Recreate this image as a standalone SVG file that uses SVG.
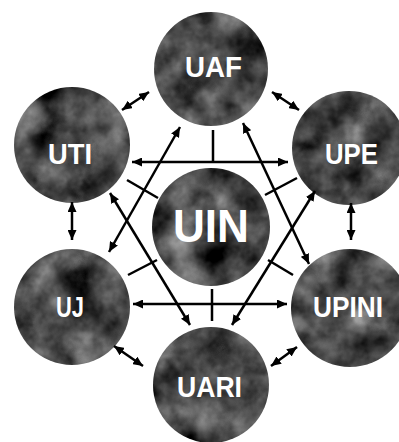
<svg xmlns="http://www.w3.org/2000/svg" width="399" height="442" viewBox="0 0 399 442">
  <defs>
    <filter id="grain" x="-5%" y="-5%" width="110%" height="110%" color-interpolation-filters="sRGB">
      <feTurbulence type="fractalNoise" baseFrequency="0.03" numOctaves="4" seed="7" result="t"/>
      <feColorMatrix in="t" type="matrix" values="0.33 0.33 0.33 0 0  0.33 0.33 0.33 0 0  0.33 0.33 0.33 0 0  0 0 0 0 1" result="g"/>
      <feComponentTransfer in="g" result="d">
        <feFuncR type="linear" slope="1.4" intercept="-0.4"/>
        <feFuncG type="linear" slope="1.4" intercept="-0.4"/>
        <feFuncB type="linear" slope="1.4" intercept="-0.4"/>
      </feComponentTransfer>
      <feComposite in="d" in2="SourceAlpha" operator="in"/>
    </filter>
    <marker id="ah" viewBox="0 0 10 9" refX="10" refY="4.5" markerWidth="10" markerHeight="9" markerUnits="userSpaceOnUse" orient="auto-start-reverse">
      <path d="M0,0 L10,4.5 L0,9 z" fill="#000"/>
    </marker>
  </defs>
  <style>
    .node circle { fill: #444; filter: url(#grain); }
    .lbl { fill: #fff; font-family: "Liberation Sans", Arial, sans-serif; font-weight: bold; font-size: 30px; text-anchor: middle; }
    .big { font-size: 47px; }
    .conn line { stroke: #000; stroke-width: 2.5; fill: none; }
    .arr { marker-start: url(#ah); marker-end: url(#ah); }
  </style>
  <rect width="399" height="442" fill="#fff"/>

  <g id="UAF" class="node">
    <circle cx="211" cy="69" r="57"/>
    <text class="lbl" x="213.5" y="77" textLength="57" lengthAdjust="spacingAndGlyphs">UAF</text>
  </g>
  <g id="UTI" class="node">
    <circle cx="72" cy="145" r="58"/>
    <text class="lbl" x="70" y="164" textLength="44" lengthAdjust="spacingAndGlyphs">UTI</text>
  </g>
  <g id="UPE" class="node">
    <circle cx="349" cy="148" r="57"/>
    <text class="lbl" x="351.5" y="164" textLength="53" lengthAdjust="spacingAndGlyphs">UPE</text>
  </g>
  <g id="UIN" class="node">
    <circle cx="211" cy="227" r="59"/>
    <text class="lbl big" x="211" y="242" textLength="76" lengthAdjust="spacingAndGlyphs">UIN</text>
  </g>
  <g id="UJ" class="node">
    <circle cx="72" cy="307" r="58"/>
    <text class="lbl" x="70" y="317" textLength="28" lengthAdjust="spacingAndGlyphs">UJ</text>
  </g>
  <g id="UPINI" class="node">
    <circle cx="350" cy="308" r="59"/>
    <text class="lbl" x="348" y="317" textLength="70" lengthAdjust="spacingAndGlyphs">UPINI</text>
  </g>
  <g id="UARI" class="node">
    <circle cx="211" cy="385" r="58"/>
    <text class="lbl" x="209.5" y="397" textLength="65" lengthAdjust="spacingAndGlyphs">UARI</text>
  </g>

  <g id="connectors" class="conn">
    <line class="arr" x1="132" y1="162" x2="288" y2="162"/>
    <line class="arr" x1="133" y1="304" x2="287" y2="304"/>
    <line class="arr" x1="180" y1="127" x2="109" y2="252"/>
    <line class="arr" x1="243" y1="123" x2="309" y2="264"/>
    <line class="arr" x1="110" y1="193" x2="190" y2="325"/>
    <line class="arr" x1="315" y1="191" x2="232" y2="325"/>
    <line x1="213" y1="130" x2="213" y2="162"/>
    <line x1="212" y1="289" x2="212" y2="321"/>
    <line x1="127" y1="180" x2="158" y2="198"/>
    <line x1="265" y1="195" x2="297" y2="178"/>
    <line x1="128" y1="275" x2="157" y2="260"/>
    <line x1="268" y1="260" x2="293" y2="275"/>
    <line class="arr" x1="122" y1="110" x2="149" y2="92"/>
    <line class="arr" x1="272" y1="92" x2="299" y2="110"/>
    <line class="arr" x1="72" y1="202" x2="72" y2="240"/>
    <line class="arr" x1="351" y1="203" x2="351" y2="240"/>
    <line class="arr" x1="114" y1="346" x2="143" y2="366"/>
    <line class="arr" x1="297" y1="347" x2="271" y2="366"/>
  </g>
</svg>
